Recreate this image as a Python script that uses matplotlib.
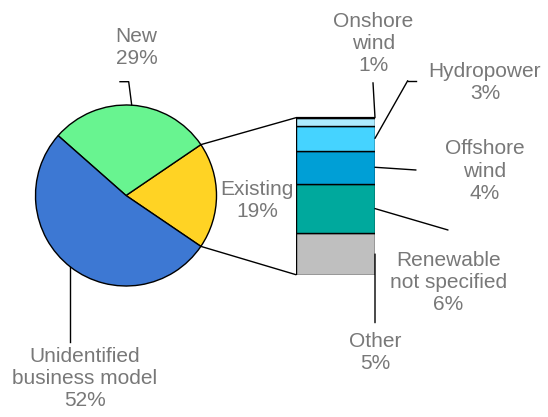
import matplotlib
matplotlib.use("Agg")
import matplotlib.pyplot as plt
from matplotlib.patches import ConnectionPatch
import numpy as np

plt.rcParams['font.family'] = ['Liberation Sans', 'DejaVu Sans']

# Business model split (pie)
pie_labels = ["Existing", "New", "Unidentified\nbusiness model"]
pie_values = [19, 29, 52]
pie_colors = ["#FFD324", "#68F490", "#3D78D3"]

# Breakdown of "Existing" (stacked bar, bottom to top)
bar_labels = ["Other", "Renewable\nnot specified", "Offshore\nwind", "Hydropower", "Onshore\nwind"]
bar_values = [5, 6, 4, 3, 1]
bar_colors = ["#BFBFBF", "#00A99D", "#009FD6", "#45D3FF", "#ADEBFF"]

W, H = 548, 417
TXT = "#787878"
FS = 15

fig = plt.figure(figsize=(W / 100, H / 100), dpi=100)
ax = fig.add_axes([0, 0, 1, 1])


def P(x, y):
    """Pixel position (y measured from the top) -> axes data coordinates."""
    return (x, H - y)


cx, cy = P(126, 195.5)
r = 90.5
start = -34.2
ax.pie(pie_values, colors=pie_colors, startangle=start, counterclock=True,
       center=(cx, cy), radius=r,
       wedgeprops=dict(edgecolor="black", linewidth=1.0))
ax.set_xlim(0, W)
ax.set_ylim(0, H)
ax.set_aspect("equal")
ax.axis("off")

# Stacked bar for the "Existing" slice
bx0, bx1, by_top, by_bot = 296, 375, 117.7, 274.7
bax = fig.add_axes([bx0 / W, (H - by_bot) / H, (bx1 - bx0) / W, (by_bot - by_top) / H])
bottom = 0
for v, c in zip(bar_values, bar_colors):
    bax.bar(0, v, width=1, bottom=bottom, color=c, edgecolor="black", linewidth=1.0)
    bottom += v
total = sum(bar_values)
bax.set_xlim(-0.5, 0.5)
bax.set_ylim(0, total)
bax.axis("off")
bax.plot([-0.5, 0.5], [total, total], color="black", lw=1.6, clip_on=False,
         solid_capstyle="butt")

# Lines linking the "Existing" wedge to the bar
a0 = np.deg2rad(start)
a1 = np.deg2rad(start + pie_values[0] / sum(pie_values) * 360)
for ang, yb in [(a1, total), (a0, 0)]:
    pt = (cx + r * np.cos(ang), cy + r * np.sin(ang))
    con = ConnectionPatch(xyA=pt, coordsA=ax.transData, xyB=(-0.5, yb),
                          coordsB=bax.transData, color="black", lw=1.0)
    fig.add_artist(con)

# Leader lines from bar segments to their labels
cum = np.cumsum([0] + bar_values)
mids = [(cum[i] + cum[i + 1]) / 2 for i in range(len(bar_values))]
mids[-1] = total
leaders = [
    [P(375, 322.7)],                 # Other
    [P(448, 230)],                   # Renewable not specified
    [P(416, 170)],                   # Offshore wind
    [P(407.7, 80.7), P(416, 80.7)],  # Hydropower
    [P(373, 82.7)],                  # Onshore wind
]
for ym, pts in zip(mids, leaders):
    con = ConnectionPatch(xyA=(0.5, ym), coordsA=bax.transData, xyB=pts[0],
                          coordsB=ax.transData, color="black", lw=1.0)
    fig.add_artist(con)
    if len(pts) > 1:
        xs, ys = zip(*pts)
        ax.plot(xs, ys, color="black", lw=1.0)

# Pie leaders
xs, ys = zip(*[P(131.7, 105), P(128.7, 81.7), P(120, 81.7)])
ax.plot(xs, ys, color="black", lw=1.0)
xs, ys = zip(*[P(70, 266.7), P(70, 341.7)])
ax.plot(xs, ys, color="black", lw=1.0)

# Labels
def label(text, val, x, y):
    ax.text(*P(x, y), f"{text}\n{val}%", ha="center", va="center",
            color=TXT, fontsize=FS, linespacing=1.2)

label(pie_labels[0], pie_values[0], 257, 200)
label(pie_labels[1], pie_values[1], 136.7, 47.5)
label(pie_labels[2], pie_values[2], 85, 378)

bar_pos = [(375, 352.5), (448.3, 283), (485, 171), (485, 82.5), (373.3, 43)]
for t, v, (x, y) in zip(bar_labels, bar_values, bar_pos):
    label(t, v, x, y)

fig.savefig("out.png", dpi=100)
